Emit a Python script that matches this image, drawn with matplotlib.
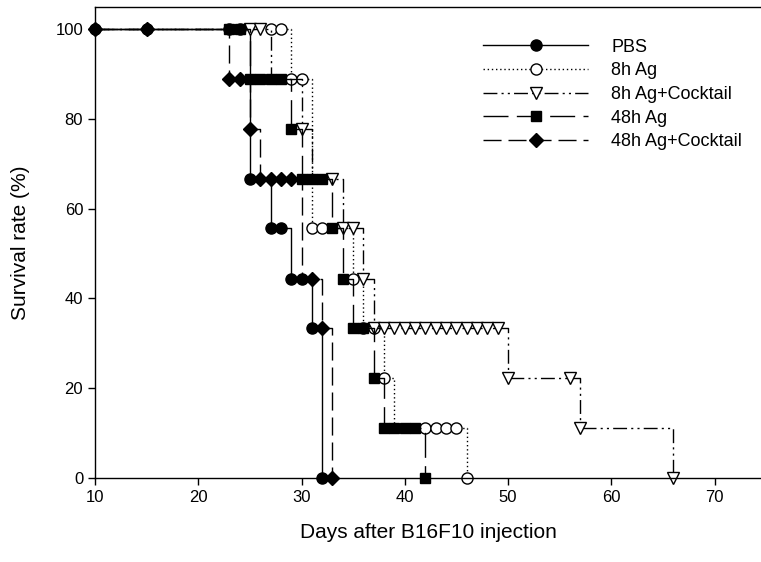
import numpy as np
import matplotlib.pyplot as plt

plt.rcParams['font.family'] = ['Liberation Sans', 'DejaVu Sans']

# Kaplan-Meier steps (day of change, survival % after change)
pbs_days = [10, 25, 27, 29, 31, 32]
pbs_surv = [100, 66.7, 55.6, 44.4, 33.3, 0]
ag8_days = [10, 29, 31, 35, 36, 38, 39, 46]
ag8_surv = [100, 88.9, 55.6, 44.4, 33.3, 22.2, 11.1, 0]
ag8c_days = [10, 27, 30, 31, 34, 36, 37, 50, 57, 66]
ag8c_surv = [100, 88.9, 77.8, 66.7, 55.6, 44.4, 33.3, 22.2, 11.1, 0]
ag48_days = [10, 25, 29, 30, 33, 34, 35, 37, 38, 42]
ag48_surv = [100, 88.9, 77.8, 66.7, 55.6, 44.4, 33.3, 22.2, 11.1, 0]
ag48c_days = [10, 23, 25, 26, 30, 32, 33]
ag48c_surv = [100, 88.9, 77.8, 66.7, 44.4, 33.3, 0]

# symbols as they appear on the curves
pbs_mx = [10, 15, 23, 24, 25, 27, 28, 29, 30, 31, 32]
pbs_my = [100, 100, 100, 100, 66.7, 55.6, 55.6, 44.4, 44.4, 33.3, 0]
ag8_mx = [27, 28, 29, 30, 31, 32, 35, 36, 37, 38, 42, 43, 44, 45, 46]
ag8_my = [100, 100, 88.9, 88.9, 55.6, 55.6, 44.4, 33.3, 33.3, 22.2, 11.1, 11.1, 11.1, 11.1, 0]
ag8c_mx = [25, 26, 30, 33, 34, 35, 36] + list(range(37, 50)) + [50, 56, 57, 66]
ag8c_my = [100, 100, 77.8, 66.7, 55.6, 55.6, 44.4] + [33.3] * 13 + [22.2, 22.2, 11.1, 0]
ag48_mx = [23, 24, 25, 26, 27, 28, 29, 30, 31, 32, 33, 34, 35, 36, 37, 38, 39, 40, 41, 42]
ag48_my = [100, 100, 88.9, 88.9, 88.9, 88.9, 77.8, 66.7, 66.7, 66.7, 55.6, 44.4, 33.3, 33.3,
           22.2, 11.1, 11.1, 11.1, 11.1, 0]
ag48c_mx = [10, 15, 23, 24, 25, 26, 27, 28, 29, 31, 32, 33]
ag48c_my = [100, 100, 88.9, 88.9, 77.8, 66.7, 66.7, 66.7, 66.7, 44.4, 33.3, 0]

labels = ['PBS', '8h Ag', '8h Ag+Cocktail', '48h Ag', '48h Ag+Cocktail']

fig = plt.figure(figsize=(7.61, 5.62), dpi=100)
ax = fig.add_axes([95/761, 84.3/562, 1 - 95/761, (477.7 - 7)/562])

groups = [
    (pbs_days, pbs_surv, pbs_mx, pbs_my, 'o', 'black', '-', 8),
    (ag8_days, ag8_surv, ag8_mx, ag8_my, 'o', 'white', (0, (1, 2)), 8),
    (ag8c_days, ag8c_surv, ag8c_mx, ag8c_my, 'v', 'white', (0, (10, 3, 1.5, 3, 1.5, 3)), 8),
    (ag48_days, ag48_surv, ag48_mx, ag48_my, 's', 'black', (0, (18, 6)), 7),
    (ag48c_days, ag48c_surv, ag48c_mx, ag48c_my, 'D', 'black', (0, (13, 5)), 7.5),
]

handles = []
for (d, s, mx, my, mk, fc, ls, ms), lab in zip(groups, labels):
    ax.step(d, s, where='post', color='black', lw=1, linestyle=ls, clip_on=False)
    ax.plot(mx, my, linestyle='none', marker=mk, ms=ms, mfc=fc, mec='black', mew=1,
            clip_on=False)
    h, = ax.plot([], [], color='black', lw=1, linestyle=ls, marker=mk, ms=ms,
                 mfc=fc, mec='black', mew=1)
    handles.append(h)

ax.set_xlim(10, 74.5)
ax.set_ylim(0, 105)
ax.set_xticks(np.arange(10, 71, 10))
ax.set_yticks(np.arange(0, 101, 20))
ax.tick_params(direction='out', length=5, width=1, labelsize=12, top=False, right=False)
ax.spines['right'].set_visible(False)
for sp in ['left', 'bottom', 'top']:
    ax.spines[sp].set_linewidth(1)

ax.set_xlabel('Days after B16F10 injection', fontsize=15, labelpad=13)
ax.set_ylabel('Survival rate (%)', fontsize=15, labelpad=18)

ax.legend(handles, labels, loc='upper left', bbox_to_anchor=(0.583, 0.933), frameon=False,
          numpoints=1, handlelength=5.8, handletextpad=1.3, labelspacing=0.37,
          borderpad=0, borderaxespad=0, fontsize=13)

fig.savefig('out.png', dpi=100)
